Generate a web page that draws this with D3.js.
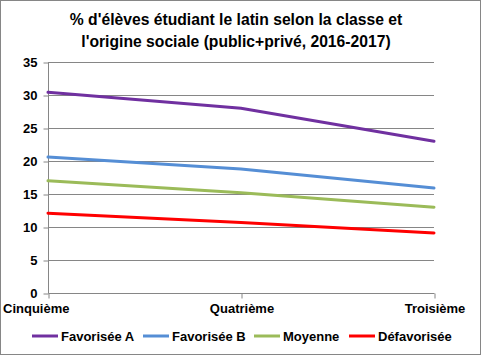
<!DOCTYPE html>
<html><head><meta charset="utf-8">
<script src="https://cdn.jsdelivr.net/npm/d3@7"></script>
<style>body{margin:0;background:#fff}svg{display:block;font-family:"Liberation Sans",Arial,sans-serif}</style>
</head><body>
<svg id="c" width="482" height="356"></svg>
<script>
const categories = ["Cinquième", "Quatrième", "Troisième"];
const favA = [30.4, 28.0, 23.0];
const favB = [20.6, 18.8, 15.9];
const moyenne = [17.0, 15.2, 13.0];
const defav = [12.1, 10.7, 9.1];
const seriesNames = ["Favorisée A", "Favorisée B", "Moyenne", "Défavorisée"];
const seriesColors = ["#7030A0", "#558ED5", "#9BBB59", "#FF0000"];
const yTicks = [0, 5, 10, 15, 20, 25, 30, 35];
const series = [favA, favB, moyenne, defav];

const svg = d3.select("#c");
svg.append("rect").attr("x",0.5).attr("y",0.5).attr("width",480).attr("height",354)
  .attr("fill","#fff").attr("stroke","#868686");

svg.append("text").attr("x",236).attr("y",25).attr("text-anchor","middle")
  .attr("font-weight","bold").attr("font-size",15.7).text("% d'élèves étudiant le latin selon la classe et");
svg.append("text").attr("x",236).attr("y",47).attr("text-anchor","middle")
  .attr("font-weight","bold").attr("font-size",15.7).text("l'origine sociale (public+privé, 2016-2017)");

const x = d3.scalePoint().domain(categories).range([48, 434]);
const y = d3.scaleLinear().domain([0, 35]).range([293, 62]);

// gridlines
svg.append("g").selectAll("line").data(yTicks.filter(d=>d>0)).join("line")
  .attr("x1",48).attr("x2",434).attr("y1",d=>y(d)+0.5).attr("y2",d=>y(d)+0.5)
  .attr("stroke","#868686").attr("stroke-width",1);

const ya = svg.append("g").attr("transform","translate(48.5,0.5)")
  .call(d3.axisLeft(y).tickValues(yTicks).tickSize(5).tickPadding(6));
ya.select(".domain").attr("stroke","#868686").attr("d","M0,"+(y(35)-0)+"V"+y(0));
ya.selectAll(".tick line").attr("stroke","#868686");
ya.selectAll("text").attr("font-size",13).attr("font-weight","bold").attr("fill","#000")
  .attr("font-family","Liberation Sans, Arial, sans-serif");

const xa = svg.append("g").attr("transform","translate(0.5,"+(y(0)+0.5)+")")
  .call(d3.axisBottom(x).tickSize(5).tickPadding(7));
xa.select(".domain").attr("stroke","#868686").attr("d","M48,0H434");
xa.selectAll(".tick line").attr("stroke","#868686");
xa.selectAll("text").attr("font-size",13).attr("font-weight","bold").attr("fill","#000")
  .attr("font-family","Liberation Sans, Arial, sans-serif")
  .attr("text-anchor",(d,i)=> i===0 ? "start" : "middle")
  .attr("dx",(d,i)=> i===0 ? -46 : 0).attr("dy","0.6em");

const line = d3.line().x((d,i)=>x(categories[i])).y(d=>y(d));
series.forEach((s,k)=>{
  svg.append("path").datum(s).attr("d",line).attr("fill","none")
    .attr("stroke",seriesColors[k]).attr("stroke-width",3).attr("stroke-linecap","round");
});

const legX = [32, 143, 254, 349];
const lg = svg.append("g");
seriesNames.forEach((n,k)=>{
  lg.append("line").attr("x1",legX[k]).attr("x2",legX[k]+26).attr("y1",336).attr("y2",336)
    .attr("stroke",seriesColors[k]).attr("stroke-width",3);
  lg.append("text").attr("x",legX[k]+29).attr("y",340.5).attr("font-size",13)
    .attr("font-weight","bold").text(n);
});
</script>
</body></html>
